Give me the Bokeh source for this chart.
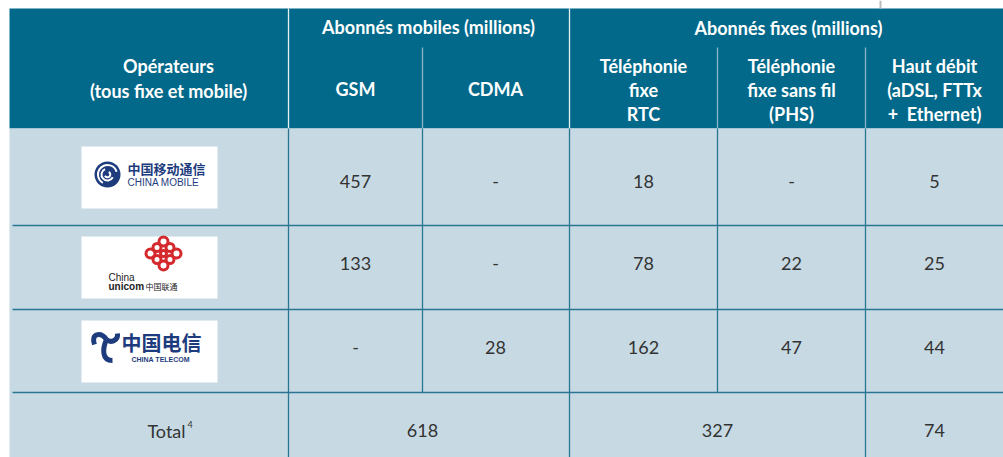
from bokeh.plotting import figure
from bokeh.models import Range1d
from bokeh.core.properties import value
from bokeh.embed import file_html
from bokeh.resources import INLINE

# ---------------- data ----------------
operators = ["China Mobile", "China Unicom", "China Telecom"]
group_headers = ["Abonnés mobiles (millions)", "Abonnés fixes (millions)"]
col_headers = [["GSM"], ["CDMA"], ["Téléphonie", "fixe", "RTC"],
               ["Téléphonie", "fixe sans fil", "(PHS)"],
               ["Haut débit", "(aDSL, FTTx", "+\u00a0 Ethernet)"]]
gsm = [457, 133, None]
cdma = [None, None, 28]
rtc = [18, 78, 162]
phs = [None, 22, 47]
haut_debit = [5, 25, 44]
total_mobile = 618
total_fixe = 327
total_haut_debit = 74

# ---------------- layout ----------------
HEAD = "#03698A"
BODY = "#C7DAE3"
GRID = "#2B7594"
TXT = "#333333"
FONT = value("Lato")
CJK = value("Noto Sans CJK SC")

W, H = 1003, 457
p = figure(width=W, height=H, output_backend="svg", toolbar_location=None,
           x_range=Range1d(0, W), y_range=Range1d(H, 0),
           min_border=0, outline_line_color=None)
p.axis.visible = False
p.grid.visible = False
p.background_fill_color = "white"
p.border_fill_color = "white"

xe = [9, 288, 422, 569, 717, 865, 1010]          # column edges
ye = [8, 128, 225, 309, 392, 470]                 # header / rows / total edges
row_text_y = [181, 263, 347]
total_y = 430

# backgrounds
p.quad(left=[xe[0]], right=[xe[-1]], top=[ye[0]], bottom=[ye[1]],
       fill_color=HEAD, line_color=None)
p.quad(left=[xe[0]], right=[xe[-1]], top=[ye[1]], bottom=[ye[-1]],
       fill_color=BODY, line_color=None)

# header lines
p.segment(x0=[xe[1], xe[3]], x1=[xe[1], xe[3]], y0=[ye[0]] * 2, y1=[ye[1]] * 2,
          line_color="#E6EEF2", line_width=1.3)
p.segment(x0=[xe[2], xe[4], xe[5]], x1=[xe[2], xe[4], xe[5]], y0=[47] * 3,
          y1=[ye[1]] * 3, line_color="#8FB4C6", line_width=1.3)
p.segment(x0=[880], x1=[880], y0=[0], y1=[8], line_color="#BBBBBB", line_width=2)

# body grid lines
p.segment(x0=[12] * 3, x1=[xe[-1]] * 3, y0=ye[2:5], y1=ye[2:5],
          line_color=GRID, line_width=1.3)
p.segment(x0=xe[1:6], x1=xe[1:6], y0=[ye[1]] * 5, y1=[ye[4]] * 5,
          line_color=GRID, line_width=1.3)
p.segment(x0=[xe[1], xe[3], xe[5]], x1=[xe[1], xe[3], xe[5]], y0=[ye[4]] * 3,
          y1=[ye[-1]] * 3, line_color=GRID, line_width=1.3)

# header texts
hdr = dict(text_color="white", text_font=FONT, text_font_style="bold",
           text_font_size="18px", text_align="center", text_baseline="middle")
p.text(x=[168, 168], y=[65, 90], text=["Opérateurs", "(tous fixe et mobile)"], **hdr)
p.text(x=[428, 788], y=[26, 27], text=group_headers, **hdr)
line_y = {1: [88], 3: [65, 89, 113]}
col_cx = [355, 495, 643, 791, 934]
for i, lines in enumerate(col_headers):
    ys = line_y[len(lines)]
    p.text(x=[col_cx[i]] * len(lines), y=ys, text=lines, **hdr)

# body numbers
bt = dict(text_color=TXT, text_font=FONT, text_font_size="18px",
          text_align="center", text_baseline="middle")
def fmt(v):
    return "-" if v is None else str(v)
for i, col in enumerate([gsm, cdma, rtc, phs, haut_debit]):
    p.text(x=[col_cx[i]] * 3, y=row_text_y, text=[fmt(v) for v in col], **bt)

# totals
p.text(x=[xe[2], xe[4], col_cx[4]], y=[total_y] * 3,
       text=[str(total_mobile), str(total_fixe), str(total_haut_debit)], **bt)
p.text(x=[166], y=[total_y], text=["Total"], **bt)
p.text(x=[187], y=[424], text=["4"], text_color=TXT, text_font=FONT,
       text_font_size="9px", text_align="left", text_baseline="middle")

# ---------------- logos ----------------
NAVY = "#1E3C7D"
RED = "#D42A2E"
logo_tops = [146, 236, 320]
p.quad(left=[81] * 3, right=[217] * 3, top=logo_tops,
       bottom=[t + 62 for t in logo_tops], fill_color="white", line_color=None)

# China Mobile
p.circle(x=[107], y=[174], radius=13, fill_color=NAVY, line_color=None)
p.arc(x=[107] * 3, y=[174] * 3, radius=[9.5, 6, 2.8], start_angle=[0.3, 2.0, 3.6],
      end_angle=[4.2, 5.8, 7.4], line_color="white", line_width=2)
p.text(x=[127], y=[168], text=["中国移动通信"], text_color=NAVY, text_font=CJK,
       text_font_size="13px", text_baseline="middle", text_font_style="bold")
p.text(x=[127], y=[182], text=["CHINA MOBILE"], text_color=NAVY, text_font=value("Liberation Sans"),
       text_font_size="10px", text_baseline="middle")

# China Unicom knot
kx, ky = 163, 253
ring_x = [kx - 13, kx + 13, kx, kx, kx - 6.5, kx + 6.5, kx - 6.5, kx + 6.5, kx]
ring_y = [ky, ky, ky - 12, ky + 12, ky - 6, ky - 6, ky + 6, ky + 6, ky]
ring_r = [4.5, 4.5, 4.5, 4.5, 4, 4, 4, 4, 3]
p.circle(x=ring_x, y=ring_y, radius=ring_r, fill_color=None, line_color=RED, line_width=3)
p.text(x=[108], y=[277], text=["China"], text_color="#222222", text_font=value("Liberation Sans"),
       text_font_size="10px", text_baseline="middle")
p.text(x=[108], y=[286], text=["unicom"], text_color="#222222", text_font=value("Liberation Sans"),
       text_font_size="10px", text_baseline="middle", text_font_style="bold")
p.text(x=[145], y=[286], text=["中国联通"], text_color="#222222", text_font=CJK,
       text_font_size="8px", text_baseline="middle")

# China Telecom
p.bezier(x0=[94, 106, 106], y0=[344, 339, 339],
         cx0=[90, 110, 102], cy0=[333, 343, 348],
         cx1=[100, 118, 101], cy1=[331, 340, 360],
         x1=[106, 117, 112], y1=[339, 333, 360],
         line_color=NAVY, line_width=5)
p.text(x=[121], y=[342], text=["中国电信"], text_color=NAVY, text_font=CJK,
       text_font_size="20px", text_baseline="middle", text_font_style="bold")
p.text(x=[131], y=[359], text=["CHINA TELECOM"], text_color=NAVY, text_font=value("Liberation Sans"),
       text_font_size="7px", text_baseline="middle", text_font_style="bold")

open("out.html", "w").write(file_html(p, INLINE))
